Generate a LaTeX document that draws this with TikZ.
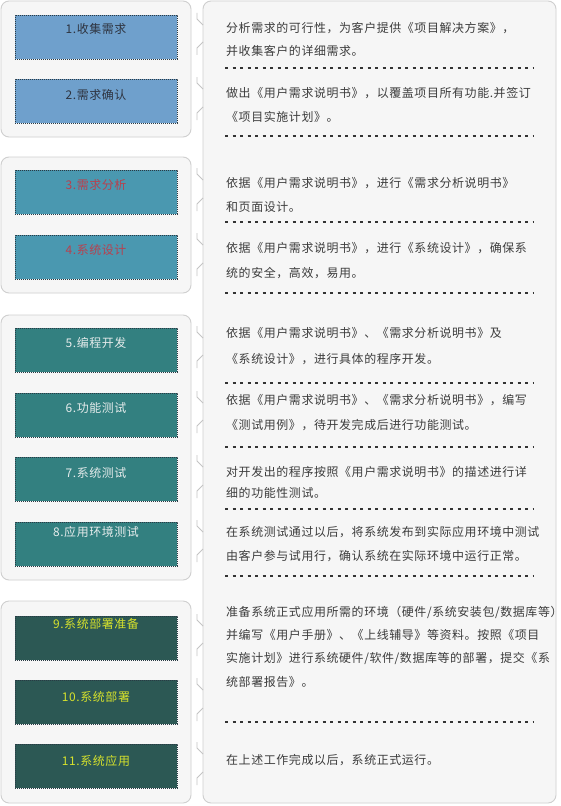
\documentclass[tikz,border=0pt]{standalone}
\usepackage{fontspec}
\newfontfamily\cjk[LetterSpace=5]{Noto Sans CJK SC}
\definecolor{panelc}{HTML}{F6F6F6}
\definecolor{linec}{HTML}{CFCFCF}
\definecolor{notchc}{HTML}{C4C4C4}
\definecolor{dotc}{HTML}{2A3A44}
\definecolor{sepc}{HTML}{333333}
\definecolor{txtc}{HTML}{3C3C3C}
\definecolor{bA}{HTML}{6FA0CC}
\definecolor{bB}{HTML}{4A98B0}
\definecolor{bC}{HTML}{338080}
\definecolor{bD}{HTML}{2C5854}
\definecolor{tA}{HTML}{2E3440}
\definecolor{tB}{HTML}{B8404E}
\definecolor{tC}{HTML}{E6ECEC}
\definecolor{tD}{HTML}{D6E22C}
\begin{document}
\begin{tikzpicture}[x=1bp,y=-1bp,
  group/.style={draw=linec, fill=panelc, rounded corners=8bp, line width=0.9bp},
  stepbox/.style={draw=dotc, dash pattern=on 1bp off 1bp, line width=0.9bp, minimum width=162bp, minimum height=44bp, anchor=north west, inner sep=0},
  lbl/.style={font=\cjk\fontsize{12}{14}\selectfont, inner sep=0, text height=10bp, text depth=2bp},
  txt/.style={lbl, anchor=west, text=txtc},
  sep/.style={draw=sepc, dash pattern=on 3bp off 4.5bp, line width=1.3bp},
  notch/.style={draw=notchc, line width=0.9bp}]
\useasboundingbox (0,0) rectangle (561,806);
\fill[white] (0,0) rectangle (561,806);
% groups
\draw[group] (1,1) rectangle (191,137);
\draw[group] (1,157) rectangle (191,293);
\draw[group] (1,315) rectangle (191,580);
\draw[group] (1,601) rectangle (191,803);
\draw[group] (203,1) rectangle (556,803);
% notches
\foreach \t/\b in {15/59,79/124,170/215,235/280,328/372,393/437,457/502,522/566,616/660,680/725,744/789}{
  \draw[notch] (197,\t-2) -- (197,\t+4) -- (203,\t+10);
  \draw[notch] (203,\b-17) -- (197,\b-11) -- (197,\b-4);
}
% step boxes
\node[stepbox, fill=bA] (s1) at (15,15) {};
\node[stepbox, fill=bA] (s2) at (15,79) {};
\node[stepbox, fill=bB] (s3) at (15,170) {};
\node[stepbox, fill=bB] (s4) at (15,235) {};
\node[stepbox, fill=bC] (s5) at (15,328) {};
\node[stepbox, fill=bC] (s6) at (15,393) {};
\node[stepbox, fill=bC] (s7) at (15,457) {};
\node[stepbox, fill=bC] (s8) at (15,522) {};
\node[stepbox, fill=bD] (s9) at (15,616) {};
\node[stepbox, fill=bD] (s10) at (15,680) {};
\node[stepbox, fill=bD] (s11) at (15,744) {};
% step labels
\node[lbl, text=tA] (l1) at (96,30) {1.收集需求};
\node[lbl, text=tA] (l2) at (96,95) {2.需求确认};
\node[lbl, text=tB] (l3) at (96,185) {3.需求分析};
\node[lbl, text=tB] (l4) at (96,250) {4.系统设计};
\node[lbl, text=tC] (l5) at (96,343) {5.编程开发};
\node[lbl, text=tC] (l6) at (96,408) {6.功能测试};
\node[lbl, text=tC] (l7) at (96,473) {7.系统测试};
\node[lbl, text=tC] (l8) at (96,532) {8.应用环境测试};
\node[lbl, text=tD] (l9) at (96,624) {9.系统部署准备};
\node[lbl, text=tD] (l10) at (96,697) {10.系统部署};
\node[lbl, text=tD] (l11) at (96,761) {11.系统应用};
% descriptions
\node[txt] (d1a) at (226,29) {分析需求的可行性，为客户提供《项目解决方案》，};
\node[txt] (d1b) at (226,52) {并收集客户的详细需求。};
\node[txt] (d2a) at (226,93) {做出《用户需求说明书》，以覆盖项目所有功能.并签订};
\node[txt] (d2b) at (226,117) {《项目实施计划》。};
\node[txt] (d3a) at (226,183) {依据《用户需求说明书》，进行《需求分析说明书》};
\node[txt] (d3b) at (226,207) {和页面设计。};
\node[txt] (d4a) at (226,248) {依据《用户需求说明书》，进行《系统设计》，确保系};
\node[txt] (d4b) at (226,273) {统的安全，高效，易用。};
\node[txt] (d5a) at (226,333) {依据《用户需求说明书》、《需求分析说明书》及};
\node[txt] (d5b) at (226,359) {《系统设计》，进行具体的程序开发。};
\node[txt] (d6a) at (226,400) {依据《用户需求说明书》、《需求分析说明书》，编写};
\node[txt] (d6b) at (226,425) {《测试用例》，待开发完成后进行功能测试。};
\node[txt] (d7a) at (226,472) {对开发出的程序按照《用户需求说明书》的描述进行详};
\node[txt] (d7b) at (226,493) {细的功能性测试。};
\node[txt] (d8a) at (226,532) {在系统测试通过以后，将系统发布到实际应用环境中测试};
\node[txt] (d8b) at (226,556) {由客户参与试用行，确认系统在实际环境中运行正常。};
\node[txt] (d9a) at (226,612) {准备系统正式应用所需的环境（硬件/系统安装包/数据库等）};
\node[txt] (d9b) at (226,635) {并编写《用户手册》、《上线辅导》等资料。按照《项目};
\node[txt] (d9c) at (226,658) {实施计划》进行系统硬件/软件/数据库等的部署，提交《系};
\node[txt] (d9d) at (226,682) {统部署报告》。};
\node[txt] (d10a) at (226,760) {在上述工作完成以后，系统正式运行。};
% separators
\foreach \y in {68,136,222,293,383,447,509,576,722}{
  \draw[sep] (225,\y) -- (533,\y);
}
\end{tikzpicture}
\end{document}
